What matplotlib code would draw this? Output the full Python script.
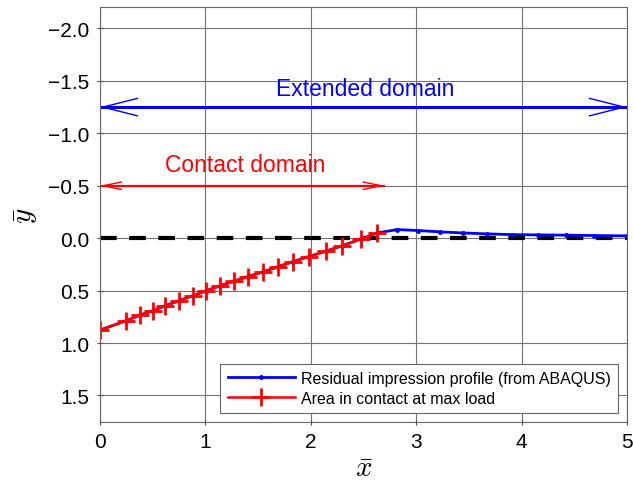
import numpy as np
import matplotlib.pyplot as plt

plt.rcParams['font.family'] = ['Liberation Sans', 'DejaVu Sans']
plt.rcParams['mathtext.fontset'] = 'cm'

# contact region nodes (max load)
x_contact = [0.0, 0.25, 0.38, 0.50, 0.62, 0.75, 0.88, 1.01, 1.14, 1.27,
             1.40, 1.55, 1.69, 1.83, 1.98, 2.14, 2.30, 2.48, 2.63]
y_contact = [0.876, 0.787, 0.733, 0.692, 0.644, 0.596, 0.549, 0.501, 0.453, 0.411,
             0.367, 0.320, 0.272, 0.224, 0.176, 0.125, 0.071, 0.007, -0.050]

# residual profile outside the contact region
x_outer = [2.82, 3.02, 3.23, 3.44, 3.67, 3.91, 4.16, 4.42, 4.69, 5.0]
y_outer = [-0.082, -0.073, -0.060, -0.050, -0.041, -0.034, -0.031, -0.029, -0.025, -0.022]

x_profile = x_contact + x_outer
y_profile = y_contact + y_outer

contact_end = 2.70
extended_end = 5.0
contact_arrow_y = -0.5
extended_arrow_y = -1.25

fig = plt.figure(figsize=(6.33, 4.85), dpi=100)
ax = fig.add_axes([0.158, 0.1285, 0.8325, 0.854])

ax.grid(True, color='0.45', lw=0.8)
ax.set_axisbelow(True)

ax.plot([0, 5], [0, 0], 'k--', lw=3, dashes=(4, 3))

ax.plot(x_profile, y_profile, color='blue', lw=2, marker='.', ms=5,
        label='Residual impression profile (from ABAQUS)')
ax.plot(x_contact, y_contact, color='red', lw=1.8, marker='+', ms=13, mew=2,
        label='Area in contact at max load')


def domain_arrow(x1, y, color, shaft_lw, head_len, head_w):
    # thick shaft with thin open heads at both ends
    ax.plot([0, x1], [y, y], color=color, lw=shaft_lw, solid_capstyle='butt')
    ax.annotate('', xy=(0, y), xytext=(x1, y),
                arrowprops=dict(arrowstyle='<->,head_length=%g,head_width=%g'
                                % (head_len, head_w),
                                color=color, lw=1, shrinkA=0, shrinkB=0))


domain_arrow(extended_end, extended_arrow_y, 'blue', 2.2, 2.5, 0.63)
ax.text(2.52, -1.43, 'Extended domain', color='blue', fontsize=16.5,
        ha='center', va='center')

domain_arrow(contact_end, contact_arrow_y, 'red', 1.6, 1.3, 0.27)
ax.text(1.38, -0.70, 'Contact domain', color='red', fontsize=16.5,
        ha='center', va='center')

ax.set_xlim(0, 5)
ax.set_ylim(1.75, -2.2)
ax.set_xticks(np.arange(0, 6, 1))
ax.set_yticks(np.arange(-2.0, 2.0, 0.5))
ax.set_yticklabels(['\u22122.0', '\u22121.5', '\u22121.0', '\u22120.5',
                    '0.0', '0.5', '1.0', '1.5'])
ax.tick_params(direction='inout', labelsize=15, length=5, width=0.8,
               color='0.3', pad=5)
for s in ax.spines.values():
    s.set_color('0.4')
    s.set_linewidth(0.8)

ax.set_xlabel(r'$\bar{x}$', fontsize=21, labelpad=2)
ax.set_ylabel(r'$\bar{y}$', fontsize=21, labelpad=6)

leg = ax.legend(loc='lower right', fontsize=11.5, fancybox=False,
                framealpha=1, edgecolor='0.4', borderaxespad=0.55,
                handlelength=4.2, handletextpad=0.4, borderpad=0.45,
                labelspacing=0.3)
leg.get_frame().set_linewidth(0.8)

fig.savefig('out.png', dpi=100)
